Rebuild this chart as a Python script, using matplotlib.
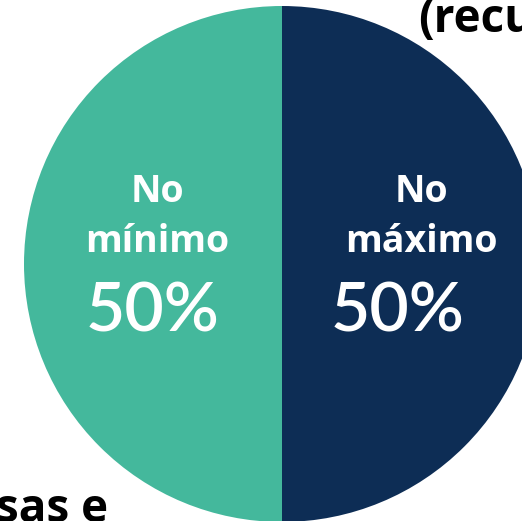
import matplotlib
matplotlib.use("Agg")
import matplotlib.pyplot as plt

# dados
categorias = [("No", "mínimo"), ("No", "máximo")]
valores = [50, 50]
cores = ["#44B89C", "#0D2D55"]
rotulos_pct = ["50%", "50%"]

W, H = 522, 521
fig = plt.figure(figsize=(W / 100, H / 100), dpi=100)
ax = fig.add_axes([0, 0, 1, 1])

cx, cy, r = 282, H - 264, 258
ax.pie(valores, colors=cores, startangle=90, counterclock=True,
       center=(cx, cy), radius=r, frame=True,
       wedgeprops=dict(linewidth=0))
ax.set_xlim(0, W)
ax.set_ylim(0, H)
ax.set_aspect("equal")
ax.axis("off")

pos_x = [157, 421]
pos_pct = [153, 398]
for (l1, l2), pct, x, xp in zip(categorias, rotulos_pct, pos_x, pos_pct):
    ax.text(x, H - 202, l1, ha="center", va="baseline", color="white",
            fontsize=27, fontweight="bold", family="Open Sans")
    ax.text(x, H - 252, l2, ha="center", va="baseline", color="white",
            fontsize=27, fontweight="bold", family="Open Sans")
    ax.text(xp, H - 332, pct, ha="center", va="baseline", color="white",
            fontsize=49, fontweight="semibold", family="Lato")

# textos de fundo cortados
ax.text(418, H + 4, "(recu", ha="left", va="top", color="black",
        fontsize=33, fontweight="bold", family="Open Sans")
ax.text(-4, -12, "sas e", ha="left", va="bottom", color="black",
        fontsize=33, fontweight="bold", family="Open Sans")

fig.savefig("out.png", dpi=100)
